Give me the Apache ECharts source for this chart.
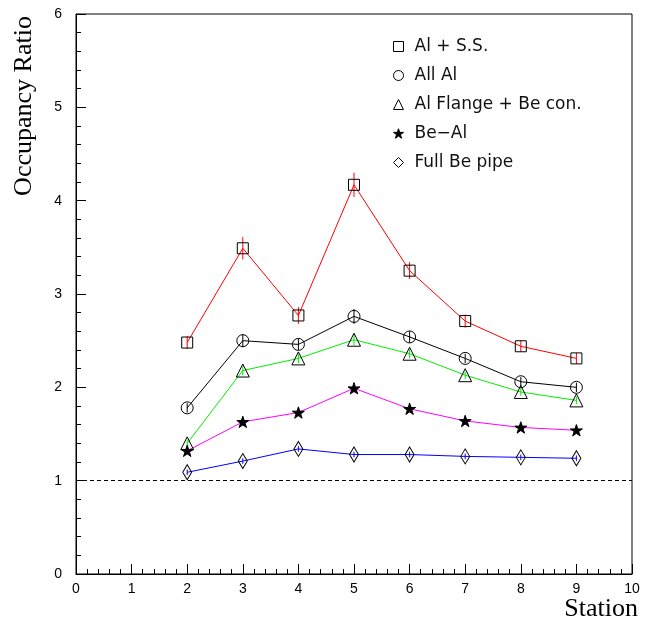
<!DOCTYPE html>
<html>
<head>
<meta charset="utf-8">
<script src="https://cdn.jsdelivr.net/npm/echarts@6/dist/echarts.min.js"></script>
<style>html,body{margin:0;padding:0;background:#fff}#c{width:645px;height:623px}</style>
</head>
<body>
<div id="c"></div>
<script>
// ---- data ----
const stations = [2, 3, 4, 5, 6, 7, 8, 9];
const seriesNames = ['Al + S.S.', 'All Al', 'Al Flange + Be con.', 'Be\u2212Al', 'Full Be pipe'];
const alSS      = [2.48, 3.49, 2.77, 4.17, 3.25, 2.71, 2.44, 2.31];
const alSSErr   = [0.07, 0.12, 0.09, 0.13, 0.09, 0.07, 0.06, 0.06];
const allAl     = [1.78, 2.50, 2.46, 2.76, 2.54, 2.31, 2.06, 2.00];
const allAlErr  = [0.05, 0.07, 0.06, 0.08, 0.06, 0.05, 0.05, 0.05];
const alFlange  = [1.40, 2.18, 2.31, 2.51, 2.36, 2.13, 1.95, 1.86];
const alFlangeErr = [0.04, 0.05, 0.05, 0.06, 0.05, 0.04, 0.04, 0.04];
const beAl      = [1.32, 1.63, 1.73, 1.99, 1.77, 1.64, 1.57, 1.54];
const beAlErr   = [0.04, 0.04, 0.04, 0.05, 0.04, 0.04, 0.04, 0.04];
const fullBe    = [1.09, 1.21, 1.34, 1.28, 1.28, 1.26, 1.25, 1.24];
const fullBeErr = [0.03, 0.03, 0.03, 0.03, 0.03, 0.03, 0.03, 0.03];
const xTicks = [0, 1, 2, 3, 4, 5, 6, 7, 8, 9, 10];
const yTicks = [0, 1, 2, 3, 4, 5, 6];
const referenceLevel = 1;

const values = [alSS, allAl, alFlange, beAl, fullBe];
const errors = [alSSErr, allAlErr, alFlangeErr, beAlErr, fullBeErr];
const lineColors = ['#ff0000', '#000000', '#00ee00', '#ff00ff', '#0000ff'];
const starPath = 'path://M0,-1L0.2245,-0.309L0.951,-0.309L0.363,0.118L0.588,0.809L0,0.382L-0.588,0.809L-0.363,0.118L-0.951,-0.309L-0.2245,-0.309Z';
const symbols = ['rect', 'circle', 'triangle', starPath, 'diamond'];
const symbolSizes = [11, 12, 13, 12, [9, 15]];
const symbolFills = ['none', 'none', 'none', '#000', 'none'];

const series = [];
values.forEach((vals, i) => {
  // error bars
  series.push({
    type: 'custom',
    silent: true,
    z: 1,
    data: stations.map((s, k) => [s, vals[k], errors[i][k]]),
    renderItem: (params, api) => {
      const x = api.value(0), y = api.value(1), e = api.value(2);
      const p1 = api.coord([x, y - e]);
      const p2 = api.coord([x, y + e]);
      return {
        type: 'line',
        shape: {x1: p1[0], y1: p1[1], x2: p2[0], y2: p2[1]},
        style: {stroke: lineColors[i], lineWidth: 1}
      };
    }
  });
  series.push({
    name: seriesNames[i],
    type: 'line',
    z: 2,
    data: stations.map((s, k) => [s, vals[k]]),
    symbol: symbols[i],
    symbolSize: symbolSizes[i],
    symbolKeepAspect: true,
    showAllSymbol: true,
    lineStyle: {color: lineColors[i], width: 1},
    itemStyle: {color: symbolFills[i], borderColor: '#000', borderWidth: 1},
    emphasis: {disabled: true},
    animation: false,
    markLine: i === 0 ? {
      silent: true,
      symbol: ['none', 'none'],
      label: {show: false},
      lineStyle: {color: '#000', type: [4, 3], width: 1},
      data: [{yAxis: referenceLevel}]
    } : undefined
  });
});

const chart = echarts.init(document.getElementById('c'), null, {renderer: 'canvas'});
chart.setOption({
  animation: false,
  backgroundColor: '#fff',
  grid: {left: 76, right: 13, top: 14, bottom: 49, show: true, borderColor: '#000', borderWidth: 1, backgroundColor: 'transparent'},
  xAxis: {
    type: 'value', min: xTicks[0], max: xTicks[xTicks.length - 1], interval: 1,
    axisLine: {show: true, onZero: false, lineStyle: {color: '#000', width: 1}},
    axisTick: {show: true, inside: true, length: 10, lineStyle: {color: '#000'}},
    minorTick: {show: true, splitNumber: 5, length: 5, lineStyle: {color: '#000'}},
    splitLine: {show: false},
    axisLabel: {color: '#000', fontFamily: 'Liberation Sans', fontSize: 14, margin: 8}
  },
  yAxis: {
    type: 'value', min: yTicks[0], max: yTicks[yTicks.length - 1], interval: 1,
    axisLine: {show: true, onZero: false, lineStyle: {color: '#000', width: 1}},
    axisTick: {show: true, inside: true, length: 10, lineStyle: {color: '#000'}},
    minorTick: {show: true, splitNumber: 5, length: 5, lineStyle: {color: '#000'}},
    splitLine: {show: false},
    axisLabel: {color: '#000', fontFamily: 'Liberation Sans', fontSize: 14, margin: 14}
  },
  legend: {
    orient: 'vertical',
    left: 386,
    top: 33,
    itemWidth: 10,
    itemHeight: 10,
    itemGap: 12,
    selectedMode: false,
    textStyle: {color: '#111', fontFamily: 'DejaVu Sans', fontSize: 17, lineHeight: 16, padding: [0, 0, 0, 6]},
    data: seriesNames.map((n, i) => ({
      name: n,
      icon: symbols[i],
      itemStyle: {color: symbolFills[i], borderColor: '#000', borderWidth: 1}
    }))
  },
  graphic: [
    {type: 'text', x: 24, y: 106, rotation: Math.PI / 2,
     style: {text: 'Occupancy Ratio', font: '26px "Liberation Serif"', fill: '#000', align: 'center', verticalAlign: 'middle'}},
    {type: 'text', x: 638, y: 609,
     style: {text: 'Station', font: '26px "Liberation Serif"', fill: '#000', align: 'right', verticalAlign: 'middle'}}
  ],
  series: series
});
</script>
</body>
</html>
